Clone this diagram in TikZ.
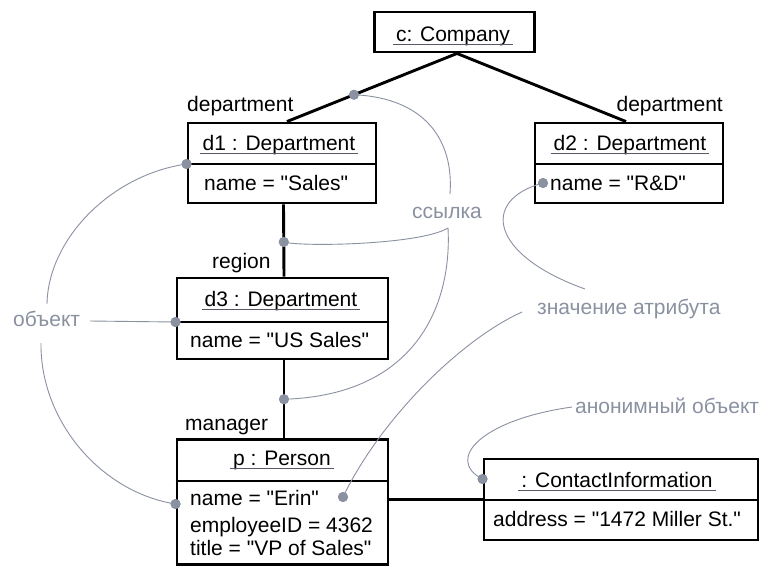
\documentclass[tikz,border=0pt]{standalone}
\usepackage{fontspec}
\setmainfont{Liberation Sans}[Ligatures=TeXOff]
\definecolor{notegray}{HTML}{8A91A1}
\definecolor{ulgray}{HTML}{555A66}
\begin{document}
\begin{tikzpicture}[x=1pt,y=-1pt,
  font=\fontsize{21}{25}\selectfont,
  obj/.style={draw=black, line width=2.9pt, fill=white, inner sep=0pt},
  link/.style={draw=black, line width=2.9pt},
  divline/.style={draw=black, line width=1.8pt},
  uline/.style={draw=ulgray, line width=1.6pt},
  note/.style={draw=notegray, line width=0.9pt},
  notetext/.style={text=notegray, inner sep=0pt},
  txt/.style={inner sep=0pt},
  dotmark/.style={circle, fill=notegray, inner sep=0pt, minimum size=10pt}]
\useasboundingbox[fill=white] (0,0) rectangle (769,566);

% ---------- object boxes ----------
\node[obj, minimum width=160pt, minimum height=40pt] (c)  at (454.5,32) {};
\node[obj, minimum width=188pt, minimum height=80pt] (d1) at (282,163) {};
\node[obj, minimum width=188pt, minimum height=80pt] (d2) at (629,163) {};
\node[obj, minimum width=211pt, minimum height=81pt] (d3) at (282.5,318.5) {};
\node[obj, minimum width=211pt, minimum height=125pt] (p) at (282.5,502) {};
\node[obj, minimum width=274pt, minimum height=81pt] (ci) at (621,499.5) {};

% dividers
\draw[divline] ([yshift=-1pt]d1.west) -- ([yshift=-1pt]d1.east);
\draw[divline] ([yshift=-1pt]d2.west) -- ([yshift=-1pt]d2.east);
\draw[divline] ([yshift=-3.5pt]d3.west) -- ([yshift=-3.5pt]d3.east);
\draw[divline] ([yshift=21pt]p.west) -- ([yshift=21pt]p.east);
\draw[divline] ([yshift=-0.5pt]ci.west) -- ([yshift=-0.5pt]ci.east);

% ---------- titles ----------
\node[txt, anchor=base] (ct)  at (453,41)  {c: Company};
\node[txt, anchor=base] (d1t) at (279,150) {d1 : Department};
\node[txt, anchor=base] (d2t) at (630,150) {d2 : Department};
\node[txt, anchor=base] (d3t) at (281,306) {d3 : Department};
\node[txt, anchor=base] (pt)  at (282,465) {p : Person};
\node[txt, anchor=base] (cit) at (617,487) {: ContactInformation};
\foreach \t in {ct,d1t,d2t,d3t,pt,cit}
  \draw[uline] ([xshift=-3pt,yshift=-3.5pt]\t.base west) -- ([xshift=3pt,yshift=-3.5pt]\t.base east);

% ---------- attributes ----------
\node[txt, anchor=base west] (d1a) at (204,190) {name = "Sales"};
\node[txt, anchor=base west] (d2a) at (550,190) {name = "R\&D"};
\node[txt, anchor=base west] (d3a) at (190,347) {name = "US Sales"};
\node[txt, anchor=base west] (pa1) at (190,505) {name = "Erin"};
\node[txt, anchor=base west] (pa2) at (190,532) {employeeID = 4362};
\node[txt, anchor=base west] (pa3) at (190,555) {title = "VP of Sales"};
\node[txt, anchor=base west] (cia) at (493,526) {address = "1472 Miller St."};

% ---------- links ----------
\draw[link] ([xshift=2.5pt]c.south) -- node[pos=0.606, dotmark] (k1) {} ([xshift=5pt]d1.north);
\draw[link] ([xshift=2.5pt]c.south) -- ([xshift=-3pt]d2.north);
\draw[link] ([xshift=1.5pt]d1.south) -- node[pos=0.52, dotmark] (k2) {} ([xshift=1.5pt]d3.north);
\draw[link] ([xshift=1.5pt]d3.south) -- node[pos=0.5, dotmark] (k3) {} ([xshift=1.5pt]p.north);
\draw[link] (p.east |- ci.west) -- (ci.west);

% role labels
\node[txt, anchor=base west] (r1) at (187,111) {department};
\node[txt, anchor=base east] (r2) at (723,111) {department};
\node[txt, anchor=base west] (r3) at (212,268) {region};
\node[txt, anchor=base west] (r4) at (185,430) {manager};

% ---------- annotation texts ----------
\node[notetext, anchor=base west] (nobj) at (13,326) {объект};
\node[notetext, anchor=base west] (nref) at (412,218) {ссылка};
\node[notetext, anchor=base west] (nval) at (537,314) {значение атрибута};
\node[notetext, anchor=base west] (nanon) at (575,413) {анонимный объект};

\coordinate (oR) at (90,321);
\coordinate (oT) at (47,304);
\coordinate (oB) at (41,343);
\coordinate (rT) at (450,194);
\coordinate (rB) at (448,228);
\coordinate (vU) at (585,289);
\coordinate (vD) at (522,312);
\coordinate (aL) at (572,407);

% annotation markers
\node[dotmark] (m1) at ([yshift=-1pt]d1.west) {};
\node[dotmark] (m2) at ([yshift=-3.5pt]d3.west) {};
\node[dotmark] (m3) at ([yshift=-2pt]p.west) {};
\node[dotmark] (m4) at (543,183) {};
\node[dotmark] (m5) at (343,497) {};
\node[dotmark] (m6) at ([yshift=20.5pt]ci.west) {};

% ---------- annotation lines ----------
\draw[note] (oR) -- (m2.center);
\draw[note] (oT) .. controls (48,240) and (110,175) .. (m1.center);
\draw[note] (oB) .. controls (40,420) and (100,492) .. (m3.center);
\draw[note] (rT) .. controls (454,140) and (425,98) .. (k1.center);
\draw[note] (rB) .. controls (420,245) and (300,247) .. (k2.center);
\draw[note] (rB) .. controls (452,300) and (420,395) .. (k3.center);
\draw[note] (vU) .. controls (490,255) and (480,200) .. (m4.center);
\draw[note] (vD) .. controls (460,340) and (380,420) .. (m5.center);
\draw[note] (aL) .. controls (480,420) and (445,460) .. (m6.center);

% markers on top of lines
\foreach \m in {m1,m2,m3,m4,m5,m6,k1,k2,k3}
  \fill[notegray] (\m) circle (5pt);
\end{tikzpicture}
\end{document}
